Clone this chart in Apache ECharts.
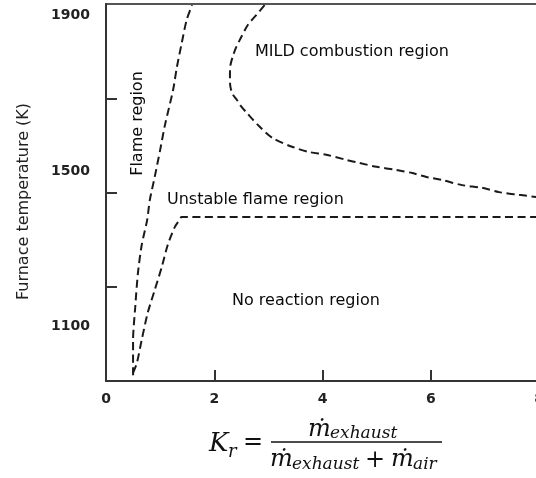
<!DOCTYPE html>
<html>
<head>
<meta charset="utf-8">
<script src="https://cdn.jsdelivr.net/npm/echarts@6/dist/echarts.min.js"></script>
<style>
html,body{margin:0;padding:0;background:#fff;}
#chart{width:536px;height:478px;}
</style>
</head>
<body>
<div id="chart"></div>
<script>
// ---- data (Kr, furnace temperature K) ----
const flameLeft = [[0.50,975],[0.50,1065],[0.54,1150],[0.59,1238],[0.66,1310],[0.76,1374],[0.81,1426],[0.90,1485],[1.00,1554],[1.09,1619],[1.24,1709],[1.31,1768],[1.40,1830],[1.49,1889],[1.59,1927]];
const unstableBoundary = [[0.50,981],[0.57,1006],[0.66,1066],[0.77,1135],[0.90,1194],[1.03,1253],[1.14,1310],[1.27,1356],[1.33,1369],[1.40,1382],[8.00,1382]];
const mildBoundary = [[2.93,1927],[2.78,1902],[2.62,1876],[2.47,1837],[2.40,1817],[2.34,1794],[2.30,1773],[2.29,1752],[2.29,1734],[2.30,1716],[2.34,1698],[2.42,1683],[2.49,1668],[2.60,1650],[2.84,1614],[3.08,1585],[3.45,1562],[3.76,1549],[4.07,1542],[4.44,1529],[4.68,1521],[5.00,1511],[5.36,1503],[5.66,1495],[5.92,1485],[6.21,1477],[6.58,1464],[6.95,1457],[7.26,1446],[7.63,1439],[7.98,1433]];
const yTickLabels = [1100, 1500, 1900];
const yTickMarks = [1202.5, 1445, 1687.5];
const regionLabels = ['MILD combustion region', 'Flame region', 'Unstable flame region', 'No reaction region'];
const yAxisTitle = 'Furnace temperature (K)';

const font = 'DejaVu Sans';
const dash = {color:'#1a1a1a', width:2, type:[8,4.5]};
function lineSeries(data, sm){
  return {type:'line', data:data, symbol:'none', smooth:sm, lineStyle:dash, silent:true};
}
function tx(x, y, text, size, opts){
  opts = opts || {};
  return {type:'text', x:x, y:y, rotation:opts.rot || 0,
    style:{text:text, font:(opts.italic ? 'italic ' : '') + size + 'px "' + (opts.family || 'DejaVu Serif') + '"',
      fill:opts.fill || '#111', align:opts.align || 'left', verticalAlign:'middle'}};
}

const chart = echarts.init(document.getElementById('chart'), null, {renderer:'canvas'});
chart.setOption({
  animation:false,
  backgroundColor:'#fff',
  grid:{left:106, top:4, right:-3, bottom:97, outerBoundsMode:'none', containLabel:false,
    show:true, borderColor:'#555', borderWidth:2, backgroundColor:'transparent'},
  xAxis:{
    type:'value', min:0, max:8, interval:2,
    axisLine:{show:true, lineStyle:{color:'#333', width:2}},
    axisTick:{show:true, inside:true, length:11, lineStyle:{color:'#333', width:2}},
    axisLabel:{fontFamily:font, fontSize:14, fontWeight:'bold', color:'#222', margin:11, formatter:function(v){return String(v);}},
    splitLine:{show:false}
  },
  yAxis:{
    type:'value', min:960, max:1930,
    name:yAxisTitle, nameLocation:'middle', nameRotate:90, nameGap:74,
    nameTextStyle:{fontFamily:font, fontSize:16, color:'#222', padding:[0,18,0,0]},
    axisLine:{show:true, lineStyle:{color:'#333', width:2}},
    axisTick:{show:true, inside:true, length:11, customValues:yTickMarks, lineStyle:{color:'#333', width:2}},
    axisLabel:{fontFamily:font, fontSize:14, fontWeight:'bold', color:'#222', margin:16, customValues:yTickLabels, formatter:function(v){return String(v);}},
    splitLine:{show:false}
  },
  series:[lineSeries(flameLeft, 0.25), lineSeries(unstableBoundary, 0.25), lineSeries(mildBoundary, 0.3)],
  graphic:[
    tx(255, 52, regionLabels[0], 16, {family:font, fill:'#0a0a0a'}),
    tx(137.5, 123.5, regionLabels[1], 16, {family:font, rot:Math.PI/2, align:'center', fill:'#0a0a0a'}),
    tx(167, 200, regionLabels[2], 16, {family:font, fill:'#0a0a0a'}),
    tx(232, 301, regionLabels[3], 16, {family:font, fill:'#0a0a0a'}),
    // formula  K_r = m_exhaust / (m_exhaust + m_air)
    tx(209, 444, 'K', 26, {italic:true}),
    tx(228, 452, 'r', 18, {italic:true}),
    tx(253, 443, '=', 24, {align:'center'}),
    tx(308, 430, '\u1E41', 24, {italic:true}),
    tx(330, 433.5, 'exhaust', 17, {italic:true}),
    {type:'line', shape:{x1:271, y1:442, x2:442, y2:442}, style:{stroke:'#111', lineWidth:1.5}},
    tx(270, 460, '\u1E41', 24, {italic:true}),
    tx(292, 465, 'exhaust', 17, {italic:true}),
    tx(375, 461, '+', 24, {align:'center'}),
    tx(391, 460, '\u1E41', 24, {italic:true}),
    tx(413, 465, 'air', 17, {italic:true})
  ]
});
</script>
</body>
</html>
